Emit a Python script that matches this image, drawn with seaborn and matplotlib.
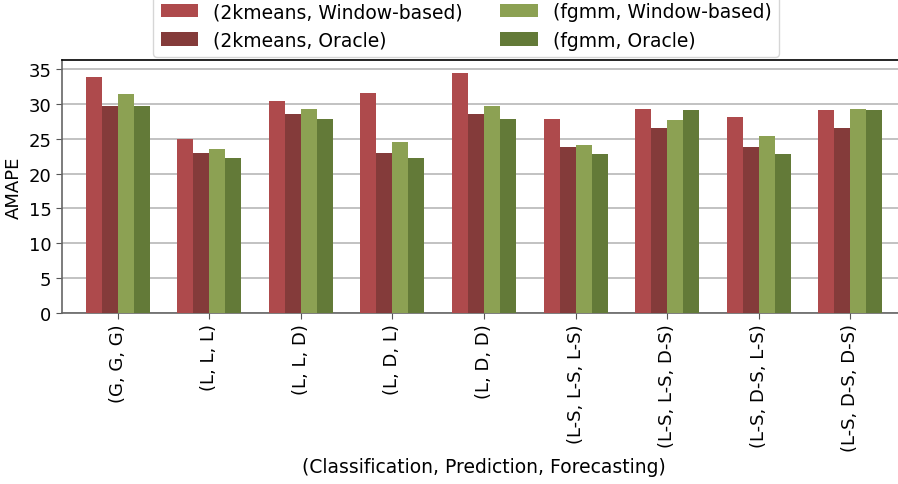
import matplotlib
matplotlib.use("Agg")
import matplotlib.pyplot as plt
import seaborn as sns
import pandas as pd

categories = ["(G, G, G)", "(L, L, L)", "(L, L, D)", "(L, D, L)", "(L, D, D)",
              "(L-S, L-S, L-S)", "(L-S, L-S, D-S)", "(L-S, D-S, L-S)", "(L-S, D-S, D-S)"]
series_names = ["(2kmeans, Window-based)", "(2kmeans, Oracle)",
                "(fgmm, Window-based)", "(fgmm, Oracle)"]
kmeans_window = [33.8, 24.9, 30.4, 31.5, 34.5, 27.9, 29.2, 28.1, 29.1]
kmeans_oracle = [29.7, 22.9, 28.5, 22.9, 28.5, 23.8, 26.5, 23.8, 26.5]
fgmm_window = [31.4, 23.6, 29.2, 24.6, 29.7, 24.1, 27.7, 25.4, 29.2]
fgmm_oracle = [29.7, 22.2, 27.8, 22.2, 27.8, 22.8, 29.1, 22.8, 29.1]
colors = ["#ae4a4c", "#843b3a", "#8ca153", "#637a38"]

rows = []
for name, vals in zip(series_names, [kmeans_window, kmeans_oracle, fgmm_window, fgmm_oracle]):
    for cat, v in zip(categories, vals):
        rows.append({"config": cat, "method": name, "AMAPE": v})
df = pd.DataFrame(rows)

sns.set_style("white", {"text.color": "black", "axes.labelcolor": "black",
                        "xtick.color": "black", "ytick.color": "black"})
plt.rcParams["font.family"] = ["DejaVu Sans"]

fig = plt.figure(figsize=(8.98, 4.85), dpi=100)
ax = fig.add_axes([0.069, 0.3526, 0.940, 0.5216])

sns.barplot(data=df, x="config", y="AMAPE", hue="method", order=categories,
            hue_order=series_names, palette=colors, width=0.7, gap=0,
            saturation=1, linewidth=0, edgecolor="none", ax=ax, zorder=3)

ax.set_xlim(-0.608, 8.608)
ax.set_ylim(0, 36.3)
ax.set_yticks(range(0, 36, 5))
ax.yaxis.grid(True, color="#b8b8b8", linewidth=1.2, zorder=0)
ax.set_axisbelow(True)

for side in ["left", "bottom"]:
    ax.spines[side].set_color("#666666")
    ax.spines[side].set_linewidth(1.2)
ax.spines["top"].set_color("black")
ax.spines["top"].set_linewidth(1.2)

ax.tick_params(axis="both", which="both", direction="out", length=4,
               color="#555555", labelcolor="black", labelsize=13,
               bottom=True, left=True)
plt.setp(ax.get_xticklabels(), rotation=90)
ax.set_xlabel("(Classification, Prediction, Forecasting)", fontsize=13.5, color="black")
ax.set_ylabel("AMAPE", fontsize=13, color="black")

leg = ax.legend(loc="lower center", bbox_to_anchor=(0.479, 1.0), ncol=2, fontsize=13.5,
                frameon=True, borderaxespad=0.16, handlelength=2.0,
                edgecolor="#cccccc", fancybox=True)
for t in leg.get_texts():
    t.set_color("black")

fig.savefig("out.png", dpi=100)
